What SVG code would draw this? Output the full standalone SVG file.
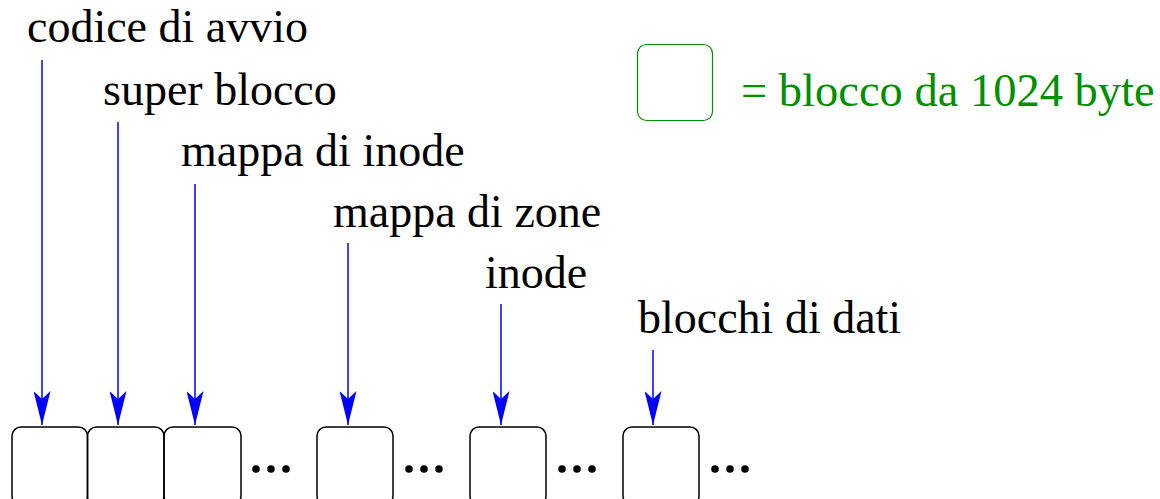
<svg xmlns="http://www.w3.org/2000/svg" width="1160" height="499" viewBox="0 0 1160 499">
<style>
.lbl{font-family:"Liberation Serif","Times New Roman",serif;font-size:46px;fill:#000}
.leg{font-family:"Liberation Serif","Times New Roman",serif;font-size:46.5px;fill:#009000}
.blk{fill:none;stroke:#000;stroke-width:1.5}
.con{stroke:#0000ff;stroke-width:1.5;fill:none}
.dot{fill:#000}
</style>
<defs>
<marker id="ah" viewBox="0 0 34 17" markerWidth="34" markerHeight="17" refX="34" refY="8.5" orient="auto" markerUnits="userSpaceOnUse">
<path d="M0,0 L34,8.5 L0,17 L8,8.5 z" fill="#0000ff"/>
</marker>
</defs>
<rect width="1160" height="499" fill="#fff"/>
<g id="labels">
<text class="lbl" x="27" y="42">codice di avvio</text>
<text class="lbl" x="103" y="105">super blocco</text>
<text class="lbl" x="181" y="166">mappa di inode</text>
<text class="lbl" x="333" y="227">mappa di zone</text>
<text class="lbl" x="485" y="288">inode</text>
<text class="lbl" x="638" y="333">blocchi di dati</text>
</g>
<g id="legend">
<rect x="637.5" y="44.5" width="75" height="76" rx="9" fill="none" stroke="#009000" stroke-width="1.2"/>
<text class="leg" x="741" y="106">= blocco da 1024 byte</text>
</g>
<g id="blocks">
<rect id="b1" class="blk" x="12" y="427" width="75.5" height="78" rx="9"/>
<rect id="b2" class="blk" x="87.5" y="427" width="76.5" height="78" rx="9"/>
<rect id="b3" class="blk" x="164" y="427" width="77" height="78" rx="9"/>
<rect id="b4" class="blk" x="317" y="427" width="76" height="78" rx="9"/>
<rect id="b5" class="blk" x="470" y="427" width="76" height="78" rx="9"/>
<rect id="b6" class="blk" x="623" y="427" width="76" height="78" rx="9"/>
</g>
<g id="dots">
<circle class="dot" cx="256" cy="469" r="3.8"/><circle class="dot" cx="271" cy="469" r="3.8"/><circle class="dot" cx="286" cy="469" r="3.8"/>
<circle class="dot" cx="409" cy="469" r="3.8"/><circle class="dot" cx="424" cy="469" r="3.8"/><circle class="dot" cx="439" cy="469" r="3.8"/>
<circle class="dot" cx="562" cy="469" r="3.8"/><circle class="dot" cx="577" cy="469" r="3.8"/><circle class="dot" cx="592" cy="469" r="3.8"/>
<circle class="dot" cx="715" cy="469" r="3.8"/><circle class="dot" cx="730" cy="469" r="3.8"/><circle class="dot" cx="745" cy="469" r="3.8"/>
</g>
<g id="connectors">
<line class="con" x1="42" y1="60" x2="42" y2="425" marker-end="url(#ah)"/>
<line class="con" x1="118" y1="122" x2="118" y2="425" marker-end="url(#ah)"/>
<line class="con" x1="195" y1="184" x2="195" y2="425" marker-end="url(#ah)"/>
<line class="con" x1="348" y1="243" x2="348" y2="425" marker-end="url(#ah)"/>
<line class="con" x1="501" y1="304" x2="501" y2="425" marker-end="url(#ah)"/>
<line class="con" x1="653" y1="350" x2="653" y2="425" marker-end="url(#ah)"/>
</g>
</svg>
